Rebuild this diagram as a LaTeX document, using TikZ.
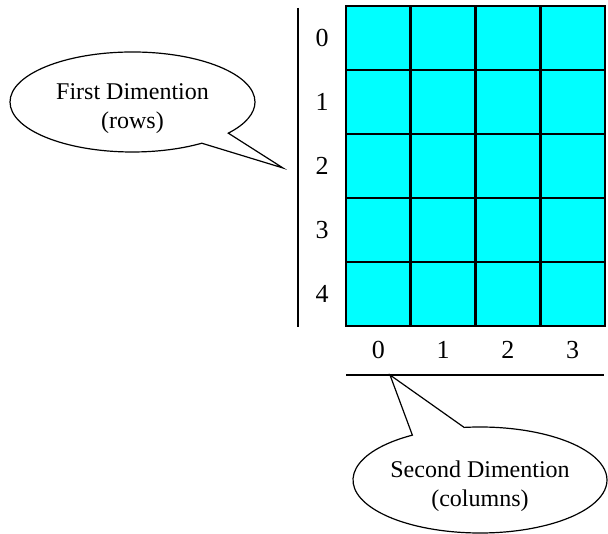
\documentclass[tikz,border=0pt]{standalone}
\usepackage{fontspec}
\setmainfont{Liberation Serif}
\usetikzlibrary{shapes.callouts}
\definecolor{aqua}{RGB}{0,255,255}

\begin{document}
\begin{tikzpicture}[x=1pt, y=1pt,
    cell/.style = {draw, fill=aqua, line width=2.6pt, minimum width=64.75pt, minimum height=64pt, inner sep=0pt, outer sep=0pt},
    idx/.style = {font=\fontsize{26}{30}\selectfont, inner sep=0pt},
    note/.style = {ellipse callout, draw, fill=white, line width=1.2pt, align=center, font=\fontsize{24}{29}\selectfont, inner sep=0pt}]
    \useasboundingbox (0,0) rectangle (608,534);
    % the array, 5 rows by 4 columns
    \foreach \r in {0,...,4}
        \foreach \c in {0,...,3}
            \node[cell] (a\r\c) at ({378.4+64.75*\c}, {496-64*\r}) {};
    % row numbers
    \foreach \r in {0,...,4}
        \node[idx] (r\r) at (322, {496-64*\r}) {\r};
    % column numbers
    \foreach \c in {0,...,3}
        \node[idx] (k\c) at ({378.4+64.75*\c}, 184) {\c};
    \coordinate (vtop) at (298,526);
    \coordinate (vbot) at (298,207);
    \coordinate (hleft) at (346,159);
    \coordinate (hright) at (604,159);
    \draw[line width=1.3pt] (vtop) -- (vbot);
    \draw[line width=1.3pt] (hleft) -- (hright);
    % callouts
    \coordinate (tip1) at (283,366);
    \coordinate (tip2) at (390,159);
    \node[note, minimum width=245pt, minimum height=100pt, callout absolute pointer={(tip1)}, callout pointer arc=17] (rows) at (132.5,432) {\rule{0pt}{29pt}First Dimention\\(rows)};
    \node[note, minimum width=254pt, minimum height=106pt, callout absolute pointer={(tip2)}, callout pointer arc=25] (cols) at (480,54) {\rule{0pt}{29pt}Second Dimention\\(columns)};
\end{tikzpicture}
\end{document}
